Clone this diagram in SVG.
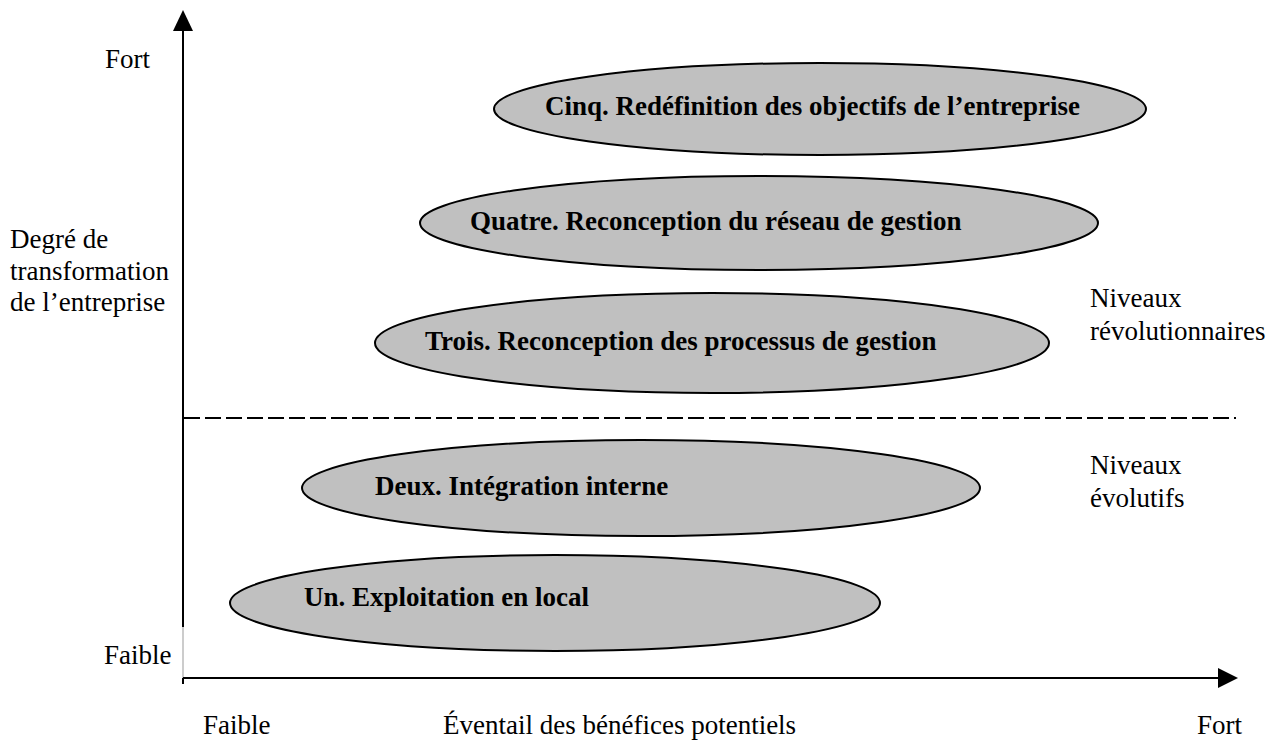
<svg xmlns="http://www.w3.org/2000/svg" width="1276" height="740" viewBox="0 0 1276 740">
<style>
.ell{fill:#c0c0c0;stroke:#000;stroke-width:2}
.lbl{font-family:"Liberation Serif","Times New Roman","DejaVu Serif",serif;font-size:27px;font-weight:bold;fill:#000}
.txt{font-family:"Liberation Serif","Times New Roman","DejaVu Serif",serif;font-size:27px;fill:#000}
.ax{stroke:#000;stroke-width:2;fill:none}
</style>
<rect width="1276" height="740" fill="#fff"/>
<g id="connectors">
<line class="ax" x1="183" y1="28" x2="183" y2="627"/>
<line x1="183" y1="627" x2="183" y2="680" stroke="#999" stroke-width="1"/>
<polygon points="183,10 173,31 193,31" fill="#000"/>
<line class="ax" x1="183" y1="678" x2="1222" y2="678"/>
<line class="ax" x1="183" y1="678" x2="183" y2="684"/>
<polygon points="1238,678 1218,668 1218,688" fill="#000"/>
<line x1="184" y1="418" x2="1236" y2="418" stroke="#000" stroke-width="2" stroke-dasharray="16,5"/>
</g>
<g id="cinq">
<ellipse class="ell" cx="820" cy="109" rx="326" ry="46"/>
<text class="lbl" x="545" y="115">Cinq. Redéfinition des objectifs de l’entreprise</text>
</g>
<g id="quatre">
<ellipse class="ell" cx="759" cy="223" rx="339" ry="47"/>
<text class="lbl" x="470" y="230">Quatre. Reconception du réseau de gestion</text>
</g>
<g id="trois">
<ellipse class="ell" cx="712" cy="343" rx="337" ry="50"/>
<text class="lbl" x="425" y="350">Trois. Reconception des processus de gestion</text>
</g>
<g id="deux">
<ellipse class="ell" cx="641" cy="488" rx="339" ry="48"/>
<text class="lbl" x="375" y="495">Deux. Intégration interne</text>
</g>
<g id="un">
<ellipse class="ell" cx="555" cy="603" rx="325" ry="48"/>
<text class="lbl" x="304" y="606">Un. Exploitation en local</text>
</g>
<g id="labels">
<text class="txt" x="105" y="68">Fort</text>
<text class="txt" x="10" y="248">Degré de</text>
<text class="txt" x="10" y="280">transformation</text>
<text class="txt" x="10" y="311">de l’entreprise</text>
<text class="txt" x="104" y="664">Faible</text>
<text class="txt" x="1090" y="307">Niveaux</text>
<text class="txt" x="1090" y="340">révolutionnaires</text>
<text class="txt" x="1090" y="474">Niveaux</text>
<text class="txt" x="1090" y="507">évolutifs</text>
<text class="txt" x="203" y="734">Faible</text>
<text class="txt" x="443" y="734">Éventail des bénéfices potentiels</text>
<text class="txt" x="1197" y="734">Fort</text>
</g>
</svg>
